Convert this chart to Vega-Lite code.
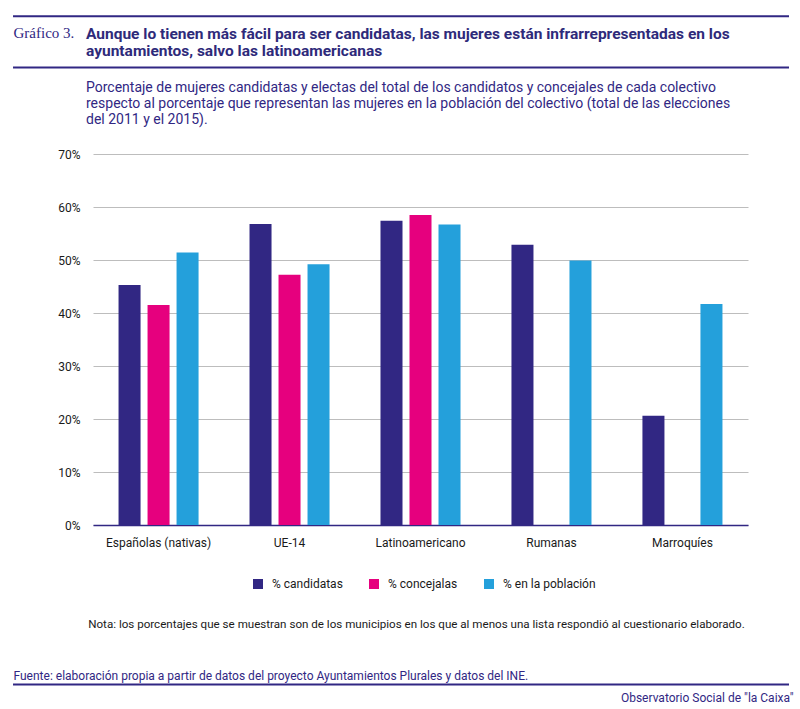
{
  "$schema": "https://vega.github.io/schema/vega-lite/v6.json",
  "autosize": {"type": "none"},
  "padding": {"left": 93, "top": 154, "right": 52, "bottom": 184},
  "width": 655,
  "height": 371,
  "background": "white",
  "config": {
    "view": {"stroke": null},
    "font": "Roboto"
  },
  "title": {
    "text": [
      "Aunque lo tienen más fácil para ser candidatas, las mujeres están infrarrepresentadas en los",
      "ayuntamientos, salvo las latinoamericanas"
    ],
    "subtitle": [
      "Porcentaje de mujeres candidatas y electas del total de los candidatos y concejales de cada colectivo",
      "respecto al porcentaje que representan las mujeres en la población del colectivo (total de las elecciones",
      "del 2011 y el 2015)."
    ],
    "anchor": "start",
    "frame": "group",
    "dx": -7,
    "dy": 112,
    "offset": 0,
    "font": "Roboto",
    "fontSize": 15.5,
    "fontWeight": "bold",
    "color": "#2e2a7a",
    "lineHeight": 17,
    "subtitleFont": "Roboto",
    "subtitleFontSize": 14,
    "subtitleColor": "#312783",
    "subtitleLineHeight": 16,
    "subtitlePadding": 22
  },
  "resolve": {
    "scale": {"x": "independent"},
    "axis": {"x": "independent", "y": "independent"}
  },
  "layer": [
    {
      "data": {
        "values": [
          {"colectivo": "Españolas (nativas)", "serie": "% candidatas", "valor": 45.3},
          {"colectivo": "Españolas (nativas)", "serie": "% concejalas", "valor": 41.5},
          {"colectivo": "Españolas (nativas)", "serie": "% en la población", "valor": 51.4},
          {"colectivo": "UE-14", "serie": "% candidatas", "valor": 56.8},
          {"colectivo": "UE-14", "serie": "% concejalas", "valor": 47.2},
          {"colectivo": "UE-14", "serie": "% en la población", "valor": 49.2},
          {"colectivo": "Latinoamericano", "serie": "% candidatas", "valor": 57.4},
          {"colectivo": "Latinoamericano", "serie": "% concejalas", "valor": 58.5},
          {"colectivo": "Latinoamericano", "serie": "% en la población", "valor": 56.7},
          {"colectivo": "Rumanas", "serie": "% candidatas", "valor": 52.9},
          {"colectivo": "Rumanas", "serie": "% en la población", "valor": 49.9},
          {"colectivo": "Marroquíes", "serie": "% candidatas", "valor": 20.6},
          {"colectivo": "Marroquíes", "serie": "% en la población", "valor": 41.7}
        ]
      },
      "mark": {"type": "bar"},
      "encoding": {
        "x": {
          "field": "colectivo",
          "type": "nominal",
          "sort": null,
          "scale": {"paddingInner": 0.389, "paddingOuter": 0.195},
          "axis": {
            "labelAngle": 0,
            "ticks": false,
            "grid": false,
            "domainColor": "#312783",
            "domainWidth": 1.5,
            "labelPadding": 12,
            "labelFontSize": 12,
            "labelColor": "#1a1a1a",
            "title": "Nota: los porcentajes que se muestran son de los municipios en los que al menos una lista respondió al cuestionario elaborado.",
            "titleX": 323,
            "titleY": 102,
            "titleAlign": "center",
            "titleBaseline": "alphabetic",
            "titleFontSize": 11.6,
            "titleFontWeight": "normal",
            "titleColor": "#1a1a1a"
          }
        },
        "xOffset": {
          "field": "serie",
          "type": "nominal",
          "scale": {
            "domain": ["% candidatas", "% concejalas", "% en la población"],
            "paddingInner": 0.241,
            "paddingOuter": 0
          }
        },
        "y": {
          "field": "valor",
          "type": "quantitative",
          "scale": {"domain": [0, 70], "nice": false},
          "axis": {
            "values": [0, 10, 20, 30, 40, 50, 60, 70],
            "labelExpr": "datum.value + '%'",
            "grid": true,
            "gridColor": "#bdbdbd",
            "domain": false,
            "ticks": false,
            "labelPadding": 13,
            "labelFontSize": 12,
            "labelColor": "#1a1a1a",
            "title": "Gráfico 3.",
            "titleX": -80,
            "titleY": -116.5,
            "titleAngle": 0,
            "titleAlign": "left",
            "titleBaseline": "alphabetic",
            "titleFont": "Liberation Serif",
            "titleFontSize": 15,
            "titleFontWeight": "normal",
            "titleColor": "#312783"
          }
        },
        "color": {
          "field": "serie",
          "type": "nominal",
          "scale": {
            "domain": ["% candidatas", "% concejalas", "% en la población"],
            "range": ["#312783", "#E6007E", "#24A0DB"]
          },
          "legend": {
            "orient": "none",
            "legendX": 159,
            "legendY": 424,
            "direction": "horizontal",
            "title": null,
            "symbolType": "square",
            "symbolSize": 100,
            "symbolStrokeWidth": 0,
            "labelFontSize": 12,
            "labelOffset": 8,
            "labelColor": "#1a1a1a",
            "columnPadding": 25,
            "padding": 0
          }
        }
      }
    },
    {
      "data": {"values": [{}]},
      "mark": {"type": "rule", "color": "#312783", "strokeWidth": 2, "clip": false},
      "encoding": {
        "x": {"datum": -0.1221, "type": "quantitative", "scale": {"domain": [0, 1], "nice": false, "zero": false}, "axis": null},
        "x2": {"datum": 1.0626},
        "y": {
          "datum": 96.0,
          "type": "quantitative",
          "scale": {"domain": [0, 70], "nice": false},
          "axis": {
            "orient": "right",
            "labels": false,
            "ticks": false,
            "domain": false,
            "grid": false,
            "title": "Observatorio Social de \"la Caixa\"",
            "titleX": 45,
            "titleY": 547,
            "titleAngle": 0,
            "titleAlign": "right",
            "titleBaseline": "alphabetic",
            "titleFontSize": 12,
            "titleFontWeight": "normal",
            "titleColor": "#312783"
          }
        }
      }
    },
    {
      "data": {"values": [{}]},
      "mark": {"type": "rule", "color": "#312783", "strokeWidth": 2, "clip": false},
      "encoding": {
        "x": {"datum": -0.1221, "type": "quantitative", "scale": {"domain": [0, 1], "nice": false, "zero": false}, "axis": null},
        "x2": {"datum": 1.0626},
        "y": {"datum": 86.3, "type": "quantitative", "scale": {"domain": [0, 70], "nice": false}, "axis": null}
      }
    },
    {
      "data": {"values": [{}]},
      "mark": {"type": "rule", "color": "#312783", "strokeWidth": 2, "clip": false},
      "encoding": {
        "x": {
          "datum": -0.1221,
          "type": "quantitative",
          "scale": {"domain": [0, 1], "nice": false, "zero": false},
          "axis": {
            "orient": "bottom",
            "labels": false,
            "ticks": false,
            "domain": false,
            "grid": false,
            "title": "Fuente: elaboración propia a partir de datos del proyecto Ayuntamientos Plurales y datos del INE.",
            "titleX": -80,
            "titleY": 154,
            "titleAlign": "left",
            "titleBaseline": "alphabetic",
            "titleFontSize": 12,
            "titleFontWeight": "normal",
            "titleColor": "#312783"
          }
        },
        "x2": {"datum": 1.0626},
        "y": {"datum": -30.1, "type": "quantitative", "scale": {"domain": [0, 70], "nice": false}, "axis": null}
      }
    }
  ]
}
